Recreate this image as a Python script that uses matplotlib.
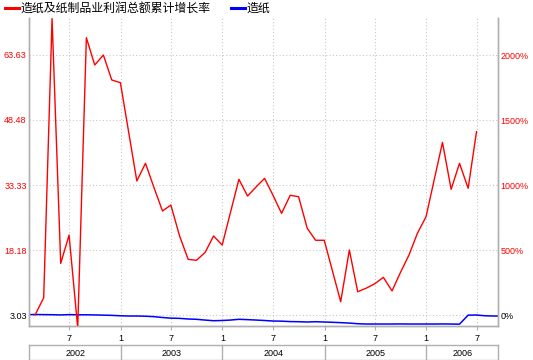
import matplotlib
matplotlib.use("Agg")
import matplotlib.pyplot as plt
import matplotlib.dates as mdates
import matplotlib.transforms as mtransforms
from matplotlib.lines import Line2D
import pandas as pd

plt.rcParams["font.family"] = ["Liberation Sans", "DejaVu Sans"]

# 造纸及纸制品业利润总额累计增长率 (%), monthly, Jan merged into Feb
profit_months = [
    "2002-02", "2002-03", "2002-04", "2002-05", "2002-06", "2002-07",
    "2002-08", "2002-09", "2002-10", "2002-11", "2002-12",
    "2003-02", "2003-03", "2003-04", "2003-05", "2003-06", "2003-07",
    "2003-08", "2003-09", "2003-10", "2003-11", "2003-12",
    "2004-02", "2004-03", "2004-04", "2004-05", "2004-06", "2004-07",
    "2004-08", "2004-09", "2004-10", "2004-11", "2004-12",
    "2005-02", "2005-03", "2005-04", "2005-05", "2005-06", "2005-07",
    "2005-08", "2005-09", "2005-10", "2005-11", "2005-12",
    "2006-02", "2006-03", "2006-04", "2006-05", "2006-06",
]
profit_growth = [
    0, 133, 2280, 397, 615, -100, 2133, 1923, 2000, 1808, 1787,
    1031, 1167, 983, 800, 846, 610, 428, 421, 482, 608, 538,
    1044, 915, 984, 1051, 922, 782, 921, 910, 667, 575, 575,
    102, 500, 179, 207, 240, 290, 185, 326, 462, 628, 756,
    1328, 967, 1167, 975, 1410,
]

# 造纸, monthly from 2002-01 to 2006-09
paper_start, paper_end = "2002-01", "2006-09"
paper_values = [
    3.10, 3.15, 3.12, 3.10, 3.05, 3.12, 3.08, 3.08, 3.05, 3.00, 2.95, 2.85,
    2.80, 2.80, 2.75, 2.65, 2.45, 2.30, 2.25, 2.10, 2.03, 1.85, 1.70, 1.75,
    1.86, 2.03, 1.95, 1.86, 1.75, 1.63, 1.60, 1.50, 1.47, 1.40, 1.47, 1.40,
    1.33, 1.25, 1.15, 1.00, 0.93, 0.93, 0.93, 0.93, 0.95, 0.93, 0.93, 0.93,
    0.93, 0.95, 0.93, 0.90, 3.00, 3.03, 2.85, 2.80, 2.80,
]

left_ticks = [3.03, 18.18, 33.33, 48.48, 63.63]
right_ticks = [0, 500, 1000, 1500, 2000]
years = ["2002", "2003", "2004", "2005", "2006"]

x_start = pd.Timestamp("2002-02-08")
x_end = pd.Timestamp("2006-09-15")

profit_dates = pd.to_datetime(profit_months) + pd.offsets.MonthEnd(0)
paper_dates = pd.date_range(paper_start, paper_end, freq="MS") + pd.offsets.MonthEnd(0)

fig = plt.figure(figsize=(5.33, 3.6), dpi=100)
ax = fig.add_axes([0.0553, 0.0944, 0.879, 0.8556])
ax2 = ax.twinx()

grid_color = "#c8c8c8"
spine_color = "#b0b0b0"

ax.plot(paper_dates, paper_values, color="#0000ff", lw=1.1)
ax2.plot(profit_dates, profit_growth, color="#ff0000", lw=1.0)

ax.set_xlim(x_start, x_end)
ax.set_ylim(0.466, 72.25)
ax2.set_ylim(-84.6, 2284.6)

ax.set_yticks(left_ticks)
ax.set_yticklabels([f"{v:.2f}" for v in left_ticks])
ax2.set_yticks(right_ticks)
ax2.set_yticklabels([f"{v}%" for v in right_ticks])
for i, lab in enumerate(ax.get_yticklabels()):
    lab.set_color("black" if i == 0 else "#ff0000")
for i, lab in enumerate(ax2.get_yticklabels()):
    lab.set_color("black" if i == 0 else "#ff0000")

ax.tick_params(axis="y", length=0, pad=2, labelsize=6.5)
ax2.tick_params(axis="y", length=0, pad=2, labelsize=6.5)

ax.xaxis.set_major_locator(mdates.MonthLocator(bymonth=[1, 7]))
ax.xaxis.set_major_formatter(plt.FuncFormatter(lambda v, p: str(mdates.num2date(v).month)))
ax.tick_params(axis="x", length=3, pad=3, labelsize=6.5, color=spine_color)

ax.grid(True, color=grid_color, linestyle=(0, (1, 2)), lw=0.8)

for a in (ax, ax2):
    a.spines["top"].set_visible(False)
    for s in ("left", "right", "bottom"):
        a.spines[s].set_color(spine_color)
        a.spines[s].set_linewidth(1.0)

# year boxes under the month ticks
trans = mtransforms.blended_transform_factory(ax.transData, ax.transAxes)
y_top, y_bot = -0.0617, -0.1088
bounds = [x_start] + [pd.Timestamp(f"{y}-01-01") for y in years[1:]] + [x_end]
bnum = [mdates.date2num(b) for b in bounds]
for yy in (y_top, y_bot):
    ax.add_line(Line2D([bnum[0], bnum[-1]], [yy, yy], transform=trans,
                       color=spine_color, lw=1.0, clip_on=False))
for b in bnum:
    ax.add_line(Line2D([b, b], [y_top, y_bot], transform=trans,
                       color=spine_color, lw=1.0, clip_on=False))
for i, label in enumerate(years):
    ax.text((bnum[i] + bnum[i + 1]) / 2, -0.0877, label, transform=trans,
            ha="center", va="center", fontsize=6.5)

# legend
cjk = ["Noto Sans CJK SC", "DejaVu Sans"]
ly = 1 - 8.3 / 360
fig.add_artist(Line2D([5 / 533, 19 / 533], [ly, ly], color="#ff0000", lw=2.2))
fig.text(20.5 / 533, ly, "造纸及纸制品业利润总额累计增长率", fontsize=8.6,
         family=cjk, va="center", ha="left")
fig.add_artist(Line2D([231 / 533, 245 / 533], [ly, ly], color="#0000ff", lw=2.2))
fig.text(246.5 / 533, ly, "造纸", fontsize=8.6, family=cjk, va="center", ha="left")

fig.savefig("out.png", dpi=100)
